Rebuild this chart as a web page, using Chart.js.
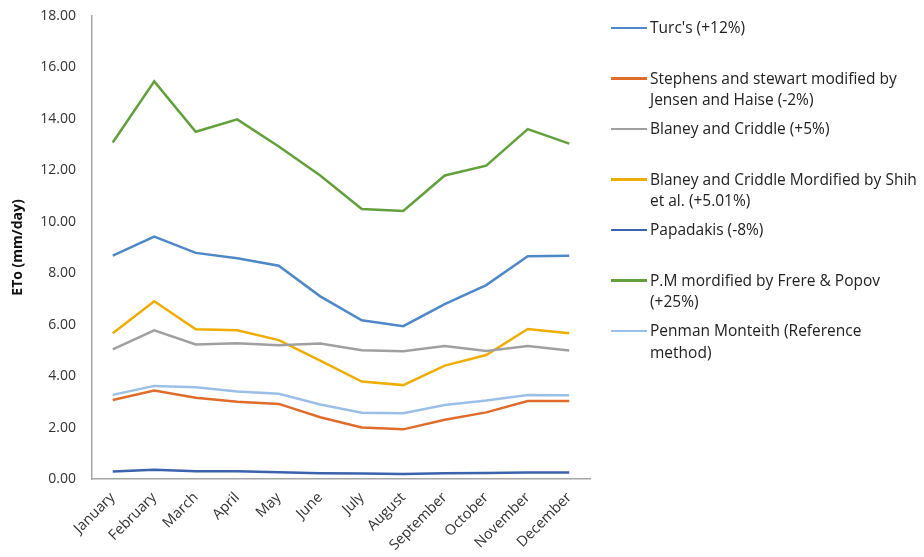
<!DOCTYPE html>
<html>
<head>
<meta charset="utf-8">
<script src="https://cdn.jsdelivr.net/npm/chart.js@4"></script>
<style>
  html, body { margin: 0; padding: 0; background: #fff; }
  #wrap { position: relative; width: 924px; height: 557px; }
  #legend { position: absolute; left: 0; top: 0; font-family: "Open Sans", sans-serif; font-size: 15.5px; color: #222; }
  .item { position: absolute; left: 611px; white-space: nowrap; line-height: 21.5px; }
  .swatch { position: absolute; left: 0; top: 9.5px; width: 36px; height: 2.5px; }
  .text { position: absolute; left: 39px; top: 0; }
</style>
</head>
<body>
<div id="wrap">
  <canvas id="chart" width="924" height="557"></canvas>
  <div id="legend"></div>
</div>
<script>
const months = ['January', 'February', 'March', 'April', 'May', 'June', 'July', 'August', 'September', 'October', 'November', 'December'];

const seriesNames = [
  "Turc's (+12%)",
  'Stephens and stewart modified by\nJensen and Haise (-2%)',
  'Blaney and Criddle (+5%)',
  'Blaney and Criddle Mordified by Shih\net al. (+5.01%)',
  'Papadakis (-8%)',
  'P.M mordified by Frere & Popov\n(+25%)',
  'Penman Monteith (Reference\nmethod)'
];

const turc      = [8.68, 9.42, 8.79, 8.58, 8.29, 7.10, 6.17, 5.94, 6.80, 7.54, 8.66, 8.68];
const stephens  = [3.07, 3.44, 3.16, 3.00, 2.92, 2.40, 2.00, 1.93, 2.30, 2.59, 3.03, 3.03];
const blaney    = [5.04, 5.78, 5.23, 5.28, 5.20, 5.27, 5.01, 4.97, 5.17, 4.98, 5.17, 5.00];
const blaneyMod = [5.67, 6.91, 5.82, 5.78, 5.40, 4.60, 3.79, 3.65, 4.41, 4.82, 5.83, 5.67];
const papadakis = [0.29, 0.36, 0.30, 0.30, 0.26, 0.22, 0.21, 0.19, 0.22, 0.23, 0.25, 0.25];
const pmFrere   = [13.08, 15.46, 13.50, 13.98, 12.93, 11.80, 10.50, 10.42, 11.80, 12.18, 13.60, 13.04];
const penman    = [3.27, 3.62, 3.57, 3.40, 3.31, 2.90, 2.58, 2.56, 2.88, 3.05, 3.27, 3.26];

const yTicks = { min: 0, max: 18, step: 2 };

const seriesData = [turc, stephens, blaney, blaneyMod, papadakis, pmFrere, penman];
const seriesColors = ['#4f88c6', '#e06c2c', '#a0a0a0', '#eead00', '#3b62ad', '#62a03c', '#9bbfe6'];

const datasets = seriesData.map((d, i) => ({
  label: seriesNames[i].replace('\n', ' '),
  data: d,
  borderColor: seriesColors[i],
  backgroundColor: seriesColors[i],
  borderWidth: 2.5,
  pointRadius: 0,
  tension: 0,
  fill: false
}));

const fontFam = '"Open Sans", sans-serif';

new Chart(document.getElementById('chart'), {
  type: 'line',
  data: { labels: months, datasets },
  options: {
    responsive: false,
    animation: false,
    layout: { padding: { top: 16, right: 334, left: 0, bottom: 0 } },
    plugins: { legend: { display: false }, tooltip: { enabled: false } },
    scales: {
      x: {
        offset: true,
        grid: { display: false },
        border: { display: true, color: '#a6a6a6', width: 1.5 },
        ticks: {
          color: '#333',
          font: { family: fontFam, size: 14.5 },
          minRotation: 45,
          maxRotation: 45,
          padding: 2,
          autoSkip: false
        },
        // fixed axis sizes so the plot box lines up with the original
        afterFit: s => { s.height = 78; s.paddingTop = 0; s.paddingBottom = 0; }
      },
      y: {
        min: yTicks.min,
        max: yTicks.max,
        grid: { display: false, drawTicks: false },
        border: { display: true, color: '#a6a6a6', width: 1.5 },
        ticks: {
          stepSize: yTicks.step,
          color: '#333',
          font: { family: fontFam, size: 14 },
          padding: 16,
          callback: v => Number(v).toFixed(2)
        },
        title: {
          display: true,
          text: 'ETo (mm/day)',
          color: '#111',
          font: { family: fontFam, size: 14, weight: 'bold' },
          padding: { top: 10, bottom: 0 }
        },
        afterFit: s => { s.width = 92; s.paddingTop = 0; s.paddingBottom = 0; }
      }
    }
  }
});

// html legend, entries stacked on the right
const legend = document.getElementById('legend');
seriesNames.forEach((name, i) => {
  const item = document.createElement('div');
  item.className = 'item';
  item.style.top = (17 + i * 50.5) + 'px';
  const sw = document.createElement('div');
  sw.className = 'swatch';
  sw.style.background = seriesColors[i];
  const tx = document.createElement('div');
  tx.className = 'text';
  tx.innerHTML = name.split('\n').map(s => s.replace('&', '&amp;')).join('<br>');
  item.appendChild(sw);
  item.appendChild(tx);
  legend.appendChild(item);
});
</script>
</body>
</html>
